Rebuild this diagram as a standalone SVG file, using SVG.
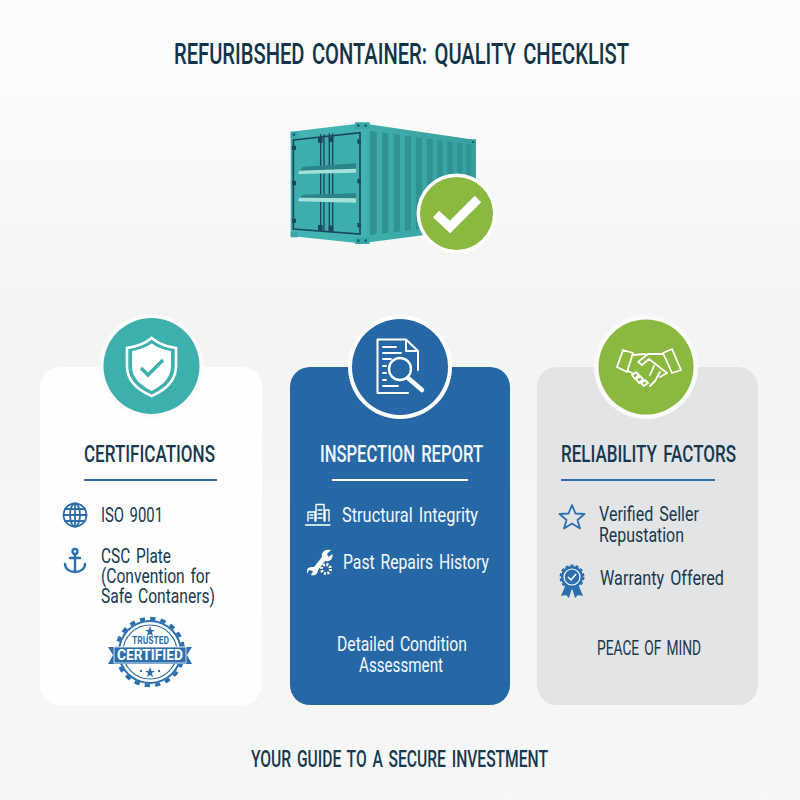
<svg xmlns="http://www.w3.org/2000/svg" width="800" height="800" viewBox="0 0 800 800">
<style>
text{font-family:"Roboto","Liberation Sans",sans-serif;font-weight:500;fill:#17394f;text-anchor:start;word-spacing:.12em}
.t{font-size:29px;fill:#123449}.h{font-size:24px}.b{font-size:21px;font-weight:400}
.w{fill:#f4f8fb}
.ic{fill:none;stroke:#2d6fae;stroke-width:1.8;stroke-linecap:round;stroke-linejoin:round}
.icw{fill:none;stroke:#fff;stroke-width:1.8;stroke-linecap:round;stroke-linejoin:round}
.ring{fill:#fbfbfb}
.rib{fill:#2d6fae}
</style>
<defs>
<linearGradient id="bg" x1="0" y1="0" x2="0" y2="1"><stop offset="0" stop-color="#fdfdfd"/><stop offset=".12" stop-color="#fbfbfb"/><stop offset=".4" stop-color="#f3f4f4"/><stop offset="1" stop-color="#f7f7f7"/></linearGradient>
<linearGradient id="side" x1="0" y1="0" x2="1" y2="0"><stop offset="0" stop-color="#40aeae"/><stop offset="1" stop-color="#389f9f"/></linearGradient>
</defs>
<rect width="800" height="800" fill="url(#bg)"/>
<text class="t" x="174" y="64" textLength="455" lengthAdjust="spacingAndGlyphs">REFURIBSHED CONTAINER: QUALITY CHECKLIST</text>

<g id="container" transform="translate(270 110) scale(.3333)">
<path d="M275 40 618 90V355L275 400Z" fill="url(#side)"/>
<g fill="#2f9396"><path d="M300 62 320 65V372L300 376Z"/><path d="M336 67 355 70V368L336 371Z"/><path d="M371 72 390 75V364L371 367Z"/><path d="M405 77 423 80V360L405 362Z"/><path d="M438 81 456 84V356L438 358Z"/><path d="M471 86 488 88V352L471 354Z"/><path d="M502 90 518 92V348L502 350Z"/><path d="M532 94 548 96V344L532 346Z"/><path d="M561 98 576 100V340L561 342Z"/><path d="M590 102 604 104V336L590 338Z"/></g>
<path d="M62 65 290 38V402L62 378Z" fill="#41b3b1"/>
<path d="M70 90 270 68V372L70 357Z" fill="#3caeae" stroke="#1c4660" stroke-width="5"/>
<path d="M152 73V362M162 73V362M178 70V366M188 70V366" stroke="#1c4660" stroke-width="4" fill="none"/>
<path d="M100 170 258 160V176L88 182ZM100 254 258 250V265L88 263Z" fill="#2b8488"/>
<path d="M88 182 258 176V188L84 192ZM88 263 258 265V278L84 274Z" fill="#a5e0da"/>
<g fill="#1c4660"><rect x="144" y="82" width="14" height="16"/><rect x="176" y="80" width="14" height="16"/><rect x="144" y="345" width="14" height="16"/><rect x="176" y="347" width="14" height="16"/><rect x="66" y="107" width="12" height="13"/><rect x="66" y="213" width="12" height="13"/><rect x="66" y="326" width="12" height="13"/><rect x="262" y="88" width="11" height="13"/><rect x="262" y="207" width="11" height="13"/><rect x="262" y="339" width="11" height="13"/></g>
<path d="M255 37h44v20h-44zM62 65h24v18H62zM600 88h18v16h-18zM62 366h22v16H62zM255 382h44v20h-44z" fill="#3aa8a8"/>
<g fill="#1c5f70"><circle cx="265" cy="47" r="4"/><circle cx="287" cy="47" r="4"/><circle cx="72" cy="74" r="4"/><circle cx="609" cy="96" r="4"/><circle cx="265" cy="392" r="4"/><circle cx="287" cy="392" r="4"/></g>
</g>

<g id="check-badge">
<circle cx="456.500" cy="213.500" r="40" fill="#fff"/>
<circle cx="456.500" cy="213.500" r="36.500" fill="#8bb83f"/>
<path d="M436 214 450 227 478 199" fill="none" stroke="#fff" stroke-width="9"/>
</g>

<g id="card-certifications">
<rect x="40" y="367" width="222" height="338" rx="20" fill="#fefefe"/>
<circle class="ring" cx="151.500" cy="366" r="52"/>
<circle cx="151.500" cy="366" r="48" fill="#3dafad"/>
<path d="M151.700 338C143 345 135 347 127 348V366C127 382 140 391 151.700 396 163 391 176 382 176 366V348C168 347 160 345 151.700 338Z" fill="none" stroke="#fff" stroke-width="2.600"/>
<path d="M151.700 343.500C145 348 138 350 132 351V366C132 379 142 386 151.700 391 161 386 171 379 171 366V351C165 350 158 348 151.700 343.500Z" fill="#fff"/>
<path d="M141 368 148 375 163 360" fill="none" stroke="#3dafad" stroke-width="3.500"/>
<text class="h" x="84" y="462" textLength="131" lengthAdjust="spacingAndGlyphs">CERTIFICATIONS</text>
<rect x="84" y="479" width="133" height="2" fill="#2d6fae"/>
<g class="ic"><circle cx="75" cy="515" r="11.500"/><ellipse cx="75" cy="515" rx="5" ry="11.500"/><path d="M75 503.500V526.500M63.500 515H86.500M65 509H85M65 521H85"/></g>
<text class="b" x="101" y="522" textLength="62" lengthAdjust="spacingAndGlyphs">ISO 9001</text>
<g class="ic" style="stroke-width:2.400"><circle cx="75" cy="551.500" r="2.500"/><path d="M75 554V572M70 558H80M65 564C65 569 70 572 75 572 80 572 85 569 85 564"/></g>
<text class="b" x="101" y="563" textLength="70" lengthAdjust="spacingAndGlyphs">CSC Plate</text>
<text class="b" x="101" y="583" textLength="109" lengthAdjust="spacingAndGlyphs">(Convention for</text>
<text class="b" x="101" y="603" textLength="114" lengthAdjust="spacingAndGlyphs">Safe Contaners)</text>
<g id="certified-badge">
<circle cx="150" cy="652" r="32" fill="#2d6fae"/>
<circle cx="150" cy="652" r="33.500" fill="none" stroke="#2d6fae" stroke-width="3.500" stroke-dasharray="5.300 5.220"/>
<circle cx="150" cy="652" r="30" fill="#fff"/>
<circle cx="150" cy="652" r="27" fill="none" stroke="#2d6fae" stroke-width="1.200"/>
<path d="M108 647H192L187 655 192 664H108L113 655Z" fill="#2d6fae"/>
<rect x="114" y="647" width="72" height="16" fill="#2d6fae" stroke="#fff" stroke-width=".8"/>
<text x="150.500" y="644" font-size="10" textLength="37" lengthAdjust="spacingAndGlyphs" style="fill:#2d6fae;font-weight:700;text-anchor:middle;word-spacing:0">TRUSTED</text>
<text x="150" y="660" font-size="15.500" textLength="66" lengthAdjust="spacingAndGlyphs" style="fill:#fff;font-weight:700;text-anchor:middle;word-spacing:0">CERTIFIED</text>
<path d="M150 626 151.500 630H155L152 632 153 636 150 634 147 636 148 632 145 630H148.500ZM150 667 151.500 671H155L152 673 153 677 150 675 147 677 148 673 145 671H148.500Z" fill="#2d6fae"/>
<circle cx="141" cy="671" r="1.200" fill="#2d6fae"/><circle cx="159" cy="671" r="1.200" fill="#2d6fae"/>
</g>
</g>

<g id="card-inspection">
<rect x="290" y="367" width="220" height="338" rx="20" fill="#2668a6"/>
<circle cx="400" cy="367" r="52" fill="#fff"/>
<circle cx="400" cy="367" r="48" fill="#2668a6"/>
<g class="icw"><path d="M408 393H377.500V339.500H406L418 351V370M406 339.500V351H418" style="stroke-width:2"/><path d="M383 347H396M383 353H401M383 359H391M383 366H386M383 373H386M383 380H386M383 386H398"/><circle cx="400" cy="369" r="11" style="stroke-width:2.400"/><path d="M408 378 422 390" style="stroke-width:4.500"/></g>
<text class="h w" x="320" y="462" textLength="163" lengthAdjust="spacingAndGlyphs">INSPECTION REPORT</text>
<rect x="332" y="479" width="136" height="2" fill="#fff"/>
<g class="icw" style="stroke-width:1.400"><path d="M305.500 525H330M308 521V512H315V521M316 521V504.500H324V521M325 521V510H329V521M310 515H313M310 518H313M318 510H322M318 514H322M318 518H322" /></g>
<text class="b w" x="342" y="522" textLength="136" lengthAdjust="spacingAndGlyphs">Structural Integrity</text>
<path d="M307 571C307 567 311 567 314 567L322 557C321 553 324 549 331 550L327 554 328.500 557 332.500 554C333 560 329 562 325 561L318 570C318 574 315 576 311 575L313 571 309 570 307 574Z" fill="#fff"/>
<circle cx="326" cy="569" r="4.500" fill="none" stroke="#fff" stroke-width="3" stroke-dasharray="2 1.500"/>
<text class="b w" x="343" y="569" textLength="146" lengthAdjust="spacingAndGlyphs">Past Repairs History</text>
<text class="b w" x="337" y="651" textLength="130" lengthAdjust="spacingAndGlyphs">Detailed Condition</text>
<text class="b w" x="359" y="672" textLength="84" lengthAdjust="spacingAndGlyphs">Assessment</text>
</g>

<g id="card-reliability">
<rect x="537" y="367" width="221" height="338" rx="20" fill="#e2e4e6"/>
<circle cx="646" cy="367" r="52" fill="#fafafa"/>
<circle cx="646" cy="367" r="47.500" fill="#8bb83f"/>
<g class="icw"><path d="M623 350 633 353 627 372 617 367ZM672 349 681 370 672 373 663 353Z"/><path d="M633 355 645 354M663 354H648L638 362 642 365 649 359 667 373M628 371 632 373M667 373 660 377M660 372 655 381 650 386M654 366 650 375"/><path d="M632 375 636 372 639 375 635 379ZM636 379 640 376 643 379 639 383ZM641 383 645 380 648 383 644 386Z"/></g>
<text class="h" x="561" y="462" textLength="175" lengthAdjust="spacingAndGlyphs">RELIABILITY FACTORS</text>
<rect x="561" y="479" width="154" height="2" fill="#2d6fae"/>
<path class="ic" d="M572 505 575.500 513.500 584.500 514 577.500 520 580 528.500 572 523.500 564 528.500 566.500 520 559.500 514 568.500 513.500Z"/>
<text class="b" x="599" y="521" textLength="100" lengthAdjust="spacingAndGlyphs">Verified Seller</text>
<text class="b" x="599" y="542" textLength="85" lengthAdjust="spacingAndGlyphs">Repustation</text>
<path class="rib" d="M566 584 561 596 566 595 569 598 572 588ZM578 584 583 596 578 595 575 598 572 588Z"/>
<circle cx="572" cy="577" r="11" fill="#2d6fae" stroke="#2d6fae" stroke-width="3" stroke-dasharray="3 2"/>
<circle cx="572" cy="577" r="8" fill="none" stroke="#fff" stroke-width="1.200"/>
<path d="M568 577 571 580 576 574" fill="none" stroke="#fff" stroke-width="1.500"/>
<text class="b" x="600" y="585" textLength="124" lengthAdjust="spacingAndGlyphs">Warranty Offered</text>
<text class="b" x="597" y="655" textLength="104" lengthAdjust="spacingAndGlyphs">PEACE OF MIND</text>
</g>

<text class="b" style="font-size:23px;font-weight:500" x="251" y="767" textLength="297" lengthAdjust="spacingAndGlyphs">YOUR GUIDE TO A SECURE INVESTMENT</text>
</svg>
